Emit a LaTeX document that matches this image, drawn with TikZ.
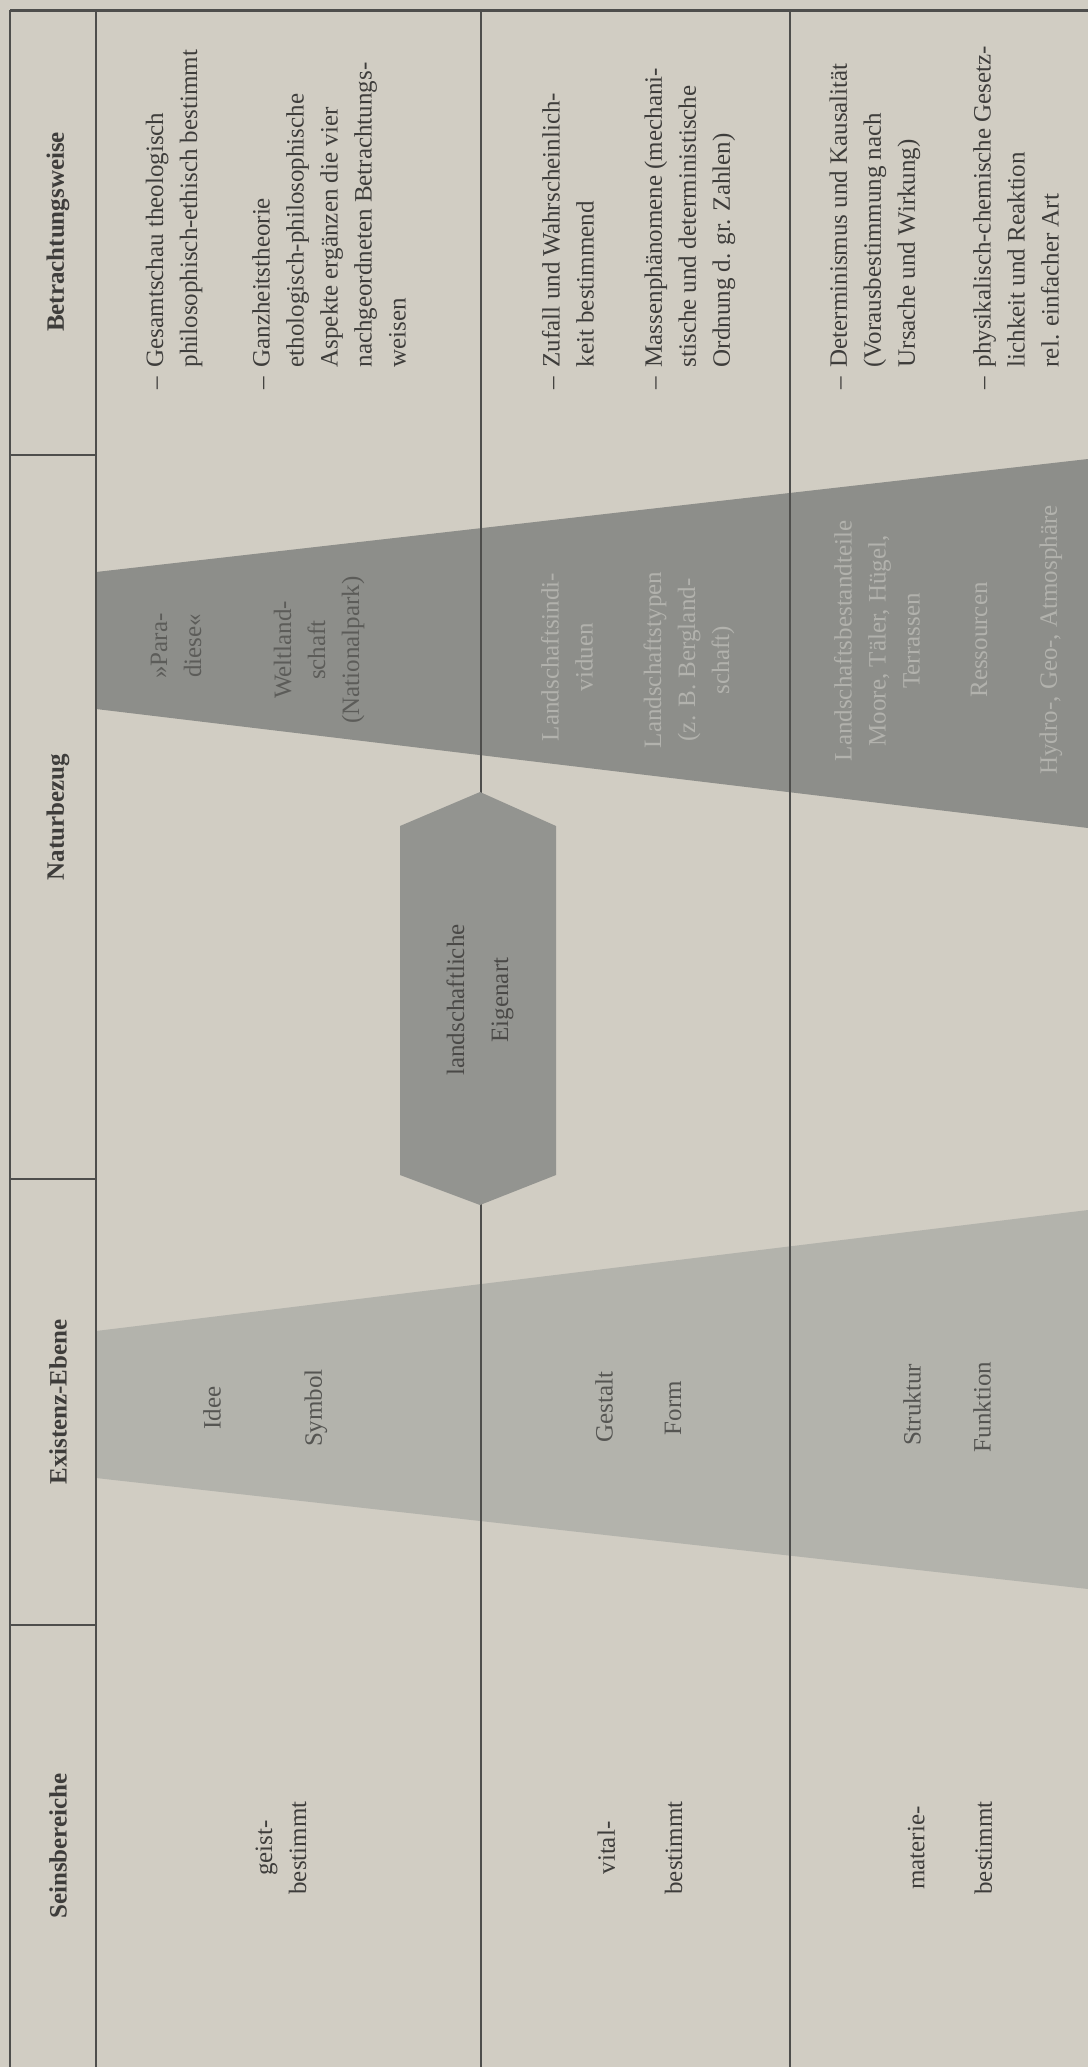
\documentclass[tikz,border=0pt]{standalone}
\usepackage{fontspec}
\setmainfont{Liberation Serif}
\usetikzlibrary{positioning}

\definecolor{paper}{HTML}{D1CDC3}
\definecolor{darkband}{HTML}{8D8E8A}
\definecolor{lightband}{HTML}{B3B3AC}
\definecolor{rulecol}{HTML}{4E4E4C}
\definecolor{inkcol}{HTML}{3E3D3B}
\definecolor{softink}{HTML}{555552}
\definecolor{dimink}{HTML}{5C5C59}
\definecolor{paleink}{HTML}{B2B2AD}

\begin{document}
\begin{tikzpicture}
    [x=0.3pt, y=-0.3pt,
     rule/.style={draw=rulecol, line width=0.4pt},
     head/.style={rotate=90, inner sep=0pt, text=inkcol,
                  font=\fontsize{7.5}{10.2}\selectfont\bfseries},
     cell/.style={rotate=90, inner sep=0pt, align=center, text=inkcol,
                  font=\fontsize{7.5}{10.2}\selectfont},
     level/.style={cell, text=softink},
     bandtext/.style={cell, text=dimink},
     palebandtext/.style={cell, text=paleink},
     item/.style={rotate=90, inner sep=0pt, align=left, anchor=west, text=inkcol,
                  font=\fontsize{7.5}{10.2}\selectfont}]

    \useasboundingbox (0,0) rectangle (1088,2067);
    \fill[paper] (0,0) rectangle (1088,2067);

    % wedges
    \fill[darkband] (96,572) -- (1088,459) -- (1088,828) -- (96,709) -- cycle;
    \fill[lightband] (96,1331) -- (1088,1210) -- (1088,1589) -- (96,1478) -- cycle;

    % table rules
    \draw[rule, line width=0.9pt] (10,10) -- (1088,10);
    \draw[rule] (10,10) -- (10,2067);
    \draw[rule] (96,10) -- (96,2067);
    \draw[rule] (481,10) -- (481,2067);
    \draw[rule] (790,10) -- (790,2067);
    \draw[rule, line width=0.6pt] (10,455) -- (96,455);
    \draw[rule, line width=0.6pt] (10,1179) -- (96,1179);
    \draw[rule, line width=0.6pt] (10,1625) -- (96,1625);

    % landschaftliche Eigenart
    \fill[darkband!95!white] (480,792) -- (556,826) -- (556,1175) -- (480,1205)
      -- (400,1175) -- (400,826) -- cycle;
    \node[cell, text=inkcol!85!darkband] (eigenart) at (480,1000)
      {landschaftliche\\[3pt]Eigenart};

    % headings
    \node[head] (betrachtung) at (58,232) {Betrachtungsweise};
    \node[head] (natur) at (58,817) {Naturbezug};
    \node[head] (existenz) at (58,1402) {Existenz-Ebene};
    \node[head] (sein) at (58,1846) {Seinsbereiche};

    % Seinsbereiche
    \node[cell] (geist) at (281,1848) {geist-\\bestimmt};
    \node[cell] (vital) at (640,1848) {vital-\\[10pt]bestimmt};
    \node[cell] (materie) at (950,1848) {materie-\\[10pt]bestimmt};

    % Existenz-Ebene
    \node[level] (idee) at (212,1408) {Idee};
    \node[level] (symbol) at (316,1408) {Symbol};
    \node[level] (gestalt) at (604,1407) {Gestalt};
    \node[level] (form) at (673,1408) {Form};
    \node[level] (struktur) at (912,1405) {Struktur};
    \node[level] (funktion) at (982,1407) {Funktion};

    % Naturbezug
    \node[bandtext] (paradiese) at (176,646) {»Para-\\diese«};
    \node[bandtext] (weltland) at (319,650) {Weltland-\\schaft\\(Nationalpark)};
    \node[palebandtext] (individuen) at (567,657) {Landschaftsindi-\\viduen};
    \node[palebandtext] (typen) at (689,660) {Landschaftstypen\\(z. B. Bergland-\\schaft)};
    \node[palebandtext] (bestand) at (877,641) {Landschaftsbestandteile\\Moore, Täler, Hügel,\\Terrassen};
    \node[palebandtext] (ressourcen) at (979,640) {Ressourcen};
    \node[palebandtext] (sphaeren) at (1051,640) {Hydro-, Geo-, Atmosphäre};

    % Betrachtungsweise
    \node[item] (gesamtschau) at (174,368)
      {\llap{–\hspace{3pt}}Gesamtschau theologisch\\philosophisch-ethisch bestimmt};
    \node[item] (ganzheit) at (329,368)
      {\llap{–\hspace{3pt}}Ganzheitstheorie\\ethologisch-philosophische\\Aspekte ergänzen die vier\\nachgeordneten Betrachtungs-\\weisen};
    \node[item] (zufall) at (568,368)
      {\llap{–\hspace{3pt}}Zufall und Wahrscheinlich-\\keit bestimmend};
    \node[item] (masse) at (690,368)
      {\llap{–\hspace{3pt}}Massenphänomene (mechani-\\stische und deterministische\\Ordnung d. gr. Zahlen)};
    \node[item] (kausal) at (875,368)
      {\llap{–\hspace{3pt}}Determinismus und Kausalität\\(Vorausbestimmung nach\\Ursache und Wirkung)};
    \node[item] (gesetz) at (1016,368)
      {\llap{–\hspace{3pt}}physikalisch-chemische Gesetz-\\lichkeit und Reaktion\\rel. einfacher Art};
  \end{tikzpicture}
\end{document}
